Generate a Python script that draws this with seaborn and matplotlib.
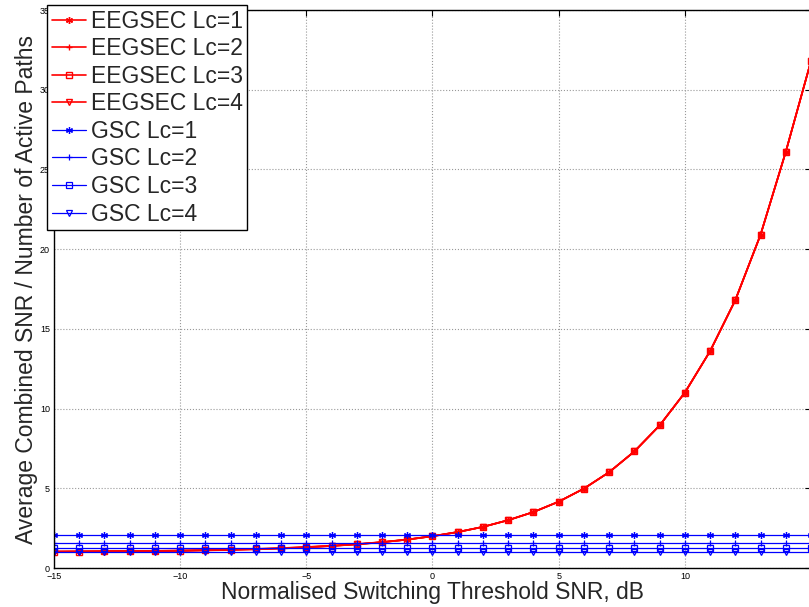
import matplotlib
matplotlib.use("Agg")
import matplotlib.pyplot as plt
import seaborn as sns

sns.set_theme(style="white")
plt.rcParams["font.family"] = ["Liberation Sans", "DejaVu Sans"]

# threshold SNR in dB
snr_db = list(range(-15, 16))

eegsec_lc1 = [1.04, 1.05, 1.06, 1.07, 1.08, 1.10, 1.13, 1.16, 1.20, 1.25, 1.32, 1.40, 1.50,
              1.63, 1.79, 2.00, 2.26, 2.58, 3.00, 3.51, 4.16, 4.98, 6.01, 7.31, 8.94,
              11.0, 13.6, 16.8, 20.9, 26.1, 31.8]
eegsec_lc2 = [1.03, 1.04, 1.05, 1.06, 1.07, 1.09, 1.12, 1.15, 1.19, 1.24, 1.31, 1.39, 1.49,
              1.62, 1.78, 2.00, 2.26, 2.58, 3.00, 3.51, 4.16, 4.98, 6.01, 7.31, 8.94,
              11.0, 13.6, 16.8, 20.9, 26.1, 31.8]
eegsec_lc3 = [1.02, 1.03, 1.04, 1.05, 1.06, 1.08, 1.11, 1.14, 1.18, 1.23, 1.30, 1.38, 1.49,
              1.62, 1.78, 1.99, 2.25, 2.58, 3.00, 3.51, 4.16, 4.98, 6.01, 7.31, 8.94,
              11.0, 13.6, 16.8, 20.9, 26.1, 31.8]
eegsec_lc4 = [1.01, 1.02, 1.03, 1.04, 1.05, 1.07, 1.10, 1.13, 1.17, 1.22, 1.29, 1.38, 1.48,
              1.61, 1.78, 1.99, 2.25, 2.58, 3.00, 3.51, 4.16, 4.98, 6.01, 7.31, 8.94,
              11.0, 13.6, 16.8, 20.9, 26.1, 31.8]

# GSC does not depend on the threshold
gsc_levels = [2.08, 1.58, 1.25, 1.00]

lc_markers = [(6, 2, 0), "+", "s", "v"]

fig = plt.figure(figsize=(8.09, 6.07), dpi=100)
ax = fig.add_axes([54 / 809, 39 / 607, 757 / 809, 558 / 607])

eegsec = [eegsec_lc1, eegsec_lc2, eegsec_lc3, eegsec_lc4]
for i, vals in enumerate(eegsec):
    sns.lineplot(x=snr_db, y=vals, ax=ax, color="red", lw=1.2,
                 marker=lc_markers[i], markersize=5, markeredgewidth=1,
                 markerfacecolor="none", markeredgecolor="red",
                 label=f"EEGSEC Lc={i + 1}")
for i, lev in enumerate(gsc_levels):
    sns.lineplot(x=snr_db, y=[lev] * len(snr_db), ax=ax, color="blue", lw=0.9,
                 marker=lc_markers[i], markersize=5, markeredgewidth=0.9,
                 markerfacecolor="none", markeredgecolor="blue",
                 label=f"GSC Lc={i + 1}")

ax.set_xlim(-15, 15)
ax.set_ylim(0, 35)
ax.set_xticks(range(-15, 16, 5))
ax.set_xticklabels(["\u221215", "\u221210", "\u22125", "0", "5", "10", ""])
ax.set_yticks(range(0, 36, 5))
ax.tick_params(direction="in", top=True, right=True, labelsize=6.5,
               length=4, width=0.8, colors="black", pad=3)
ax.grid(True, linestyle=":", color="#999999", linewidth=0.8)
for s in ax.spines.values():
    s.set_color("black")
    s.set_linewidth(1.0)

ax.set_xlabel("Normalised Switching Threshold SNR, dB", fontsize=16.5, labelpad=0)
ax.set_ylabel("Average Combined SNR / Number of Active Paths", fontsize=16.5, labelpad=1)

leg = ax.legend(loc="upper left", bbox_to_anchor=(-0.009, 1.009), fontsize=16.5,
                frameon=True, fancybox=False, edgecolor="black", framealpha=1,
                borderpad=0.2, labelspacing=0.2, handlelength=1.5,
                handletextpad=0.2, borderaxespad=0)
leg.get_frame().set_linewidth(1.0)

fig.savefig("out.png", dpi=100)
plt.close(fig)
